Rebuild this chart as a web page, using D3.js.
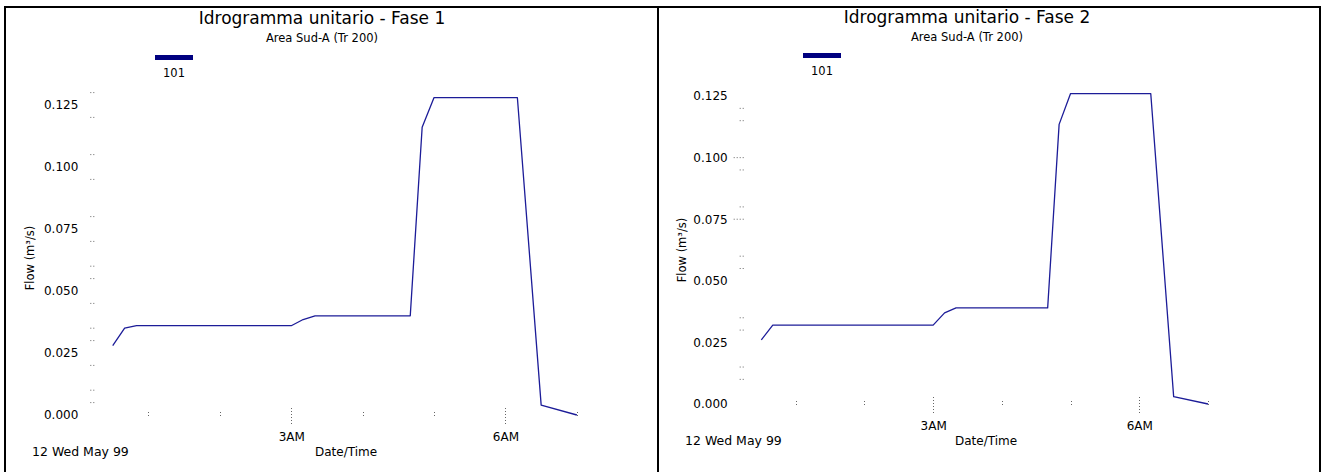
<!DOCTYPE html>
<html>
<head>
<meta charset="utf-8">
<script src="https://cdn.jsdelivr.net/npm/d3@7"></script>
<style>
  html, body { margin: 0; padding: 0; background: #fff; }
  svg { display: block; }
  text { font-family: "DejaVu Sans", "Liberation Sans", sans-serif; fill: #000; }
</style>
</head>
<body>
<svg id="chart" width="1321" height="472"></svg>
<script>
// Unit hydrograph, basin 101, two phases
const seriesName = "101";
const subtitle = "Area Sud-A (Tr 200)";
const dayLabel = "12 Wed May 99";
const xTitle = "Date/Time";
const yTitle = "Flow (m\u00B3/s)";

const fase1Times  = ["00:30","00:40","00:50","03:00","03:10","03:20","04:40","04:50","05:00","06:10","06:30","07:00"];
const fase1Values = [0.028, 0.035, 0.036, 0.036, 0.0385, 0.040, 0.040, 0.116, 0.128, 0.128, 0.004, 0.000];

const fase2Times  = ["00:30","00:40","03:00","03:10","03:20","04:40","04:50","05:00","06:10","06:30","07:00"];
const fase2Values = [0.026, 0.032, 0.032, 0.037, 0.039, 0.039, 0.1135, 0.126, 0.126, 0.003, 0.000];

const yTickValues = [0, 0.025, 0.05, 0.075, 0.1, 0.125];
const hourTicks = [1, 2, 3, 4, 5, 6, 7];
const labelledHours = [3, 6];

// minor dotted marks along the flow axis
const fase1Minor = [0.130, 0.120, 0.105, 0.095, 0.080, 0.070, 0.060, 0.055, 0.045, 0.035, 0.030, 0.020, 0.010, 0.005];
const fase2Minor = [0.120, 0.115, 0.095, 0.080, 0.060, 0.055, 0.035, 0.030, 0.015, 0.010];
const fase2Long  = [0.100, 0.075];

const svg = d3.select("#chart");
const parseT = t => { const [h, m] = t.split(":").map(Number); return new Date(1999, 4, 12, h, m); };

// panel frames
svg.append("path")
  .attr("d", "M5,472 V7 H1320 V472 M658,7 V472")
  .attr("fill", "none").attr("stroke", "#000").attr("stroke-width", 2);

function drawChart(cfg) {
  const g = svg.append("g");
  const x = d3.scaleTime()
    .domain([parseT("00:12"), parseT("07:48")])
    .range([cfg.x0, cfg.x1]);
  const y = d3.scaleLinear().domain([0, 0.135]).range([cfg.y0, cfg.y1]);

  // titles
  g.append("text").attr("x", cfg.titleX).attr("y", cfg.titleY)
    .attr("text-anchor", "middle").attr("font-size", 17).text(cfg.title);
  g.append("text").attr("x", cfg.titleX).attr("y", cfg.titleY + 18)
    .attr("text-anchor", "middle").attr("font-size", 11.5).text(subtitle);

  // legend
  g.append("rect").attr("x", cfg.legX).attr("y", cfg.legY)
    .attr("width", 38).attr("height", 5).attr("fill", "#000080");
  g.append("text").attr("x", cfg.legX + 19).attr("y", cfg.legY + 22)
    .attr("text-anchor", "middle").attr("font-size", 11.5).text(seriesName);

  // y axis labels
  const ya = g.append("g").attr("transform", `translate(${cfg.x0},0)`)
    .call(d3.axisLeft(y).tickValues(yTickValues).tickFormat(d3.format(".3f"))
      .tickSize(0).tickPadding(13));
  ya.select(".domain").remove();
  ya.selectAll("text").attr("font-size", 12).attr("font-family", "DejaVu Sans").attr("fill", "#000");

  // minor marks on the flow axis
  g.append("g").selectAll("line").data(cfg.minor).join("line")
    .attr("x1", cfg.x0 - 1).attr("x2", cfg.x0 + 3)
    .attr("y1", d => y(d)).attr("y2", d => y(d))
    .attr("stroke", "#666").attr("stroke-width", 1).attr("stroke-dasharray", "1,2");
  g.append("g").selectAll("line").data(cfg.long).join("line")
    .attr("x1", cfg.x0 - 7).attr("x2", cfg.x0 + 3)
    .attr("y1", d => y(d)).attr("y2", d => y(d))
    .attr("stroke", "#666").attr("stroke-width", 1).attr("stroke-dasharray", "1,2");

  // hour ticks
  const hourDate = h => new Date(1999, 4, 12, h, 0);
  g.append("g").selectAll("line").data(hourTicks).join("line")
    .attr("x1", d => Math.round(x(hourDate(d))) + 0.5)
    .attr("x2", d => Math.round(x(hourDate(d))) + 0.5)
    .attr("y1", d => labelledHours.includes(d) ? cfg.y0 - 7 : cfg.y0 - 3)
    .attr("y2", d => labelledHours.includes(d) ? cfg.y0 + 10 : cfg.y0 + 2)
    .attr("stroke", "#666").attr("stroke-width", 1).attr("stroke-dasharray", "1,2");

  const xa = g.append("g").attr("transform", `translate(0,${cfg.y0})`)
    .call(d3.axisBottom(x).tickValues(labelledHours.map(hourDate))
      .tickFormat(d3.timeFormat("%-I%p")).tickSize(0).tickPadding(17));
  xa.select(".domain").remove();
  xa.selectAll("text").attr("font-size", 12).attr("font-family", "DejaVu Sans").attr("fill", "#000");

  g.append("text").attr("x", cfg.dayX).attr("y", cfg.y0 + 41)
    .attr("font-size", 12.5).text(dayLabel);
  g.append("text").attr("x", cfg.xTitleX).attr("y", cfg.y0 + 41)
    .attr("text-anchor", "middle").attr("font-size", 12).text(xTitle);

  g.append("text")
    .attr("transform", `translate(${cfg.yTitleX},${cfg.yTitleY}) rotate(-90)`)
    .attr("text-anchor", "middle").attr("font-size", 11.5).text(yTitle);

  // series
  const data = cfg.times.map((t, i) => ({ t: parseT(t), v: cfg.values[i] }));
  g.append("path").datum(data)
    .attr("fill", "none").attr("stroke", "#1c1c98").attr("stroke-width", 1.3)
    .attr("stroke-linejoin", "round")
    .attr("d", d3.line().x(d => x(d.t)).y(d => y(d.v)));
}

drawChart({
  title: "Idrogramma unitario - Fase 1", titleX: 322, titleY: 24,
  legX: 155, legY: 55,
  x0: 91.3, x1: 634, y0: 415, y1: 80.2,
  dayX: 32, xTitleX: 346, yTitleX: 34, yTitleY: 258,
  minor: fase1Minor, long: [],
  times: fase1Times, values: fase1Values
});

drawChart({
  title: "Idrogramma unitario - Fase 2", titleX: 967, titleY: 23,
  legX: 803, legY: 53,
  x0: 740.7, x1: 1263, y0: 404, y1: 71.4,
  dayX: 685, xTitleX: 986, yTitleX: 686, yTitleY: 250,
  minor: fase2Minor, long: fase2Long,
  times: fase2Times, values: fase2Values
});
</script>
</body>
</html>
